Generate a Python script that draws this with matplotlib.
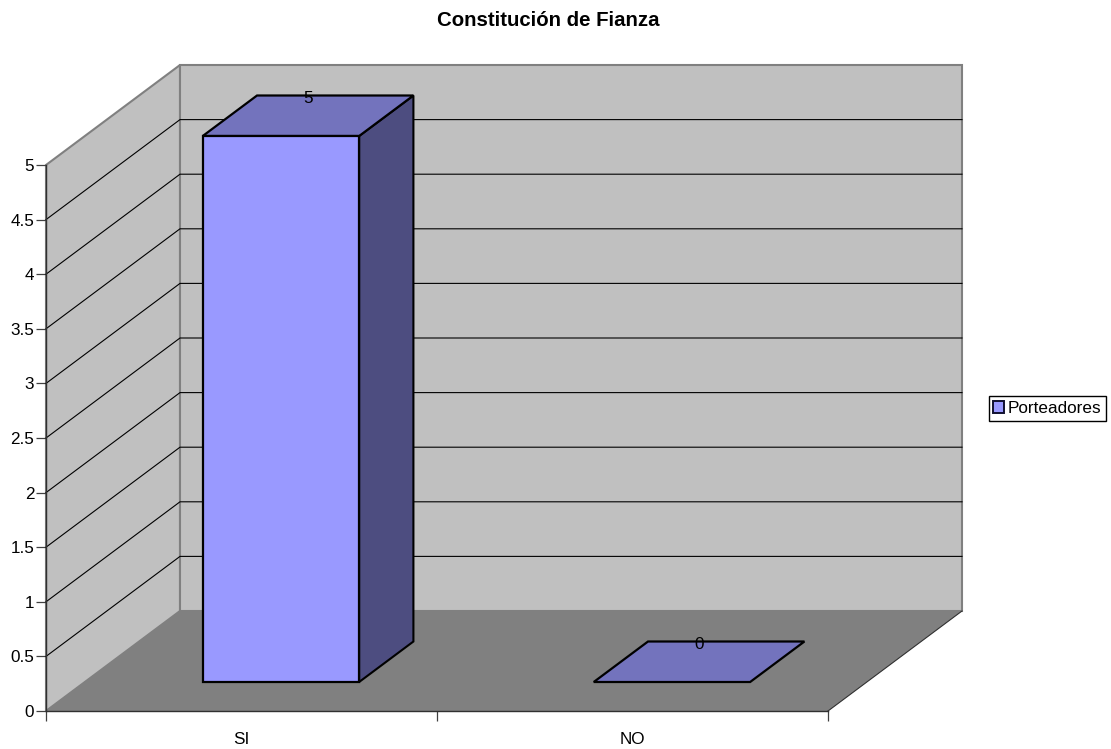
#coding:utf-8

import matplotlib
matplotlib.use("Agg")
import matplotlib.pyplot as plt
from matplotlib.patches import Polygon, Patch

plt.rcParams['font.family'] = ['Liberation Sans', 'DejaVu Sans']

categories = ["SI", "NO"]
values = [5, 0]
series_name = "Porteadores"
y_ticks = [0, 0.5, 1, 1.5, 2, 2.5, 3, 3.5, 4, 4.5, 5]
y_tick_labels = ["0", "0.5", "1", "1.5", "2", "2.5", "3", "3.5", "4", "4.5", "5"]

W, H = 1111, 749
fig = plt.figure(figsize=(W / 100, H / 100), dpi=100, facecolor="white")
# ejes = plano frontal del grafico 3D
ax = fig.add_axes([46 / W, (H - 711) / H, 782 / W, 546 / H])
ax.set_xlim(0, len(categories))
ax.set_ylim(0, 5)
ax.patch.set_visible(False)

# desplazamiento de profundidad en unidades de datos
DX = 134 / 391
DY = 100 / 109.2
BAR_W = 0.4
D0, D1 = 0.29, 0.695
PT = 72 / 100  # puntos por pixel


def depth(x, y, d):
    return (x + DX * d, y + DY * d)


def poly(pts, fc, ec="none", lw=0, z=1):
    ax.add_patch(Polygon(pts, closed=True, facecolor=fc, edgecolor=ec, linewidth=lw,
                         joinstyle="miter", clip_on=False, zorder=z))


n = len(categories)
# paredes y piso
poly([(0, 0), (0, 5), depth(0, 5, 1), depth(0, 0, 1)], "#C0C0C0", "#808080", 1.5)
poly([depth(0, 0, 1), depth(0, 5, 1), depth(n, 5, 1), depth(n, 0, 1)], "#C0C0C0", "#808080", 1.5)
poly([(0, 0), (n, 0), depth(n, 0, 1), depth(0, 0, 1)], "#808080")
ax.plot([n, depth(n, 0, 1)[0]], [0, depth(n, 0, 1)[1]], color="#303030", lw=0.8,
        clip_on=False, zorder=2)

# lineas de la cuadricula
for t in y_ticks[1:-1]:
    bx, by = depth(0, t, 1)
    ex, ey = depth(n, t, 1)
    ax.plot([0, bx, ex], [t, by, ey], color="black", lw=0.8, clip_on=False, zorder=2)

# barras
for i, v in enumerate(values):
    x0 = i + 0.5 - BAR_W / 2 + 0.0015
    x1 = i + 0.5 + BAR_W / 2 + 0.0015
    if v > 0:
        poly([depth(x1, 0, D0), depth(x1, 0, D1), depth(x1, v, D1), depth(x1, v, D0)],
             "#4D4D80", "black", 1.5, 3)
    poly([depth(x0, v, D0), depth(x1, v, D0), depth(x1, v, D1), depth(x0, v, D1)],
         "#7373BD", "black", 1.6, 3)
    if v > 0:
        poly([depth(x0, 0, D0), depth(x1, 0, D0), depth(x1, v, D0), depth(x0, v, D0)],
             "#9999FF", "black", 1.6, 4)
    lx = depth(i + 0.5, v, (D0 + D1) / 2)[0]
    ly = depth(i + 0.5, v, D1)[1]
    ax.annotate(str(v), xy=(lx, ly), xytext=(0.5 * PT, -7.5 * PT), textcoords="offset points",
                ha="center", va="baseline", fontsize=12.3, color="black",
                annotation_clip=False, zorder=5)

# ejes
for s in ["top", "right"]:
    ax.spines[s].set_visible(False)
for s in ["left", "bottom"]:
    ax.spines[s].set_color("#303030")
    ax.spines[s].set_linewidth(1.0)
    ax.spines[s].set_zorder(3)
ax.set_yticks(y_ticks)
ax.set_yticklabels(y_tick_labels)
ax.tick_params(axis="y", length=7, width=0.9, color="#404040", labelsize=12.3, pad=1.5)
ax.set_xticks(range(n + 1))
ax.set_xticklabels([""] * (n + 1))
ax.tick_params(axis="x", length=7, width=0.9, color="#404040")
for i, c in enumerate(categories):
    ax.annotate(c, xy=(i + 0.5, 0), xytext=(0, -32.5 * PT), textcoords="offset points",
                ha="center", va="baseline", fontsize=12.3, annotation_clip=False)

fig.text(548.5 / W, 1 - 25.5 / H, u"Constitución de Fianza", ha="center", va="baseline",
         fontsize=14.7, fontweight="bold")

# leyenda
leg = fig.legend(handles=[Patch(facecolor="#9999FF", edgecolor="#101030", linewidth=1.4,
                                label=series_name)],
                 loc="center left", bbox_to_anchor=(988.5 / W, 1 - 408.5 / H), fontsize=12.3,
                 frameon=True, fancybox=False, framealpha=1, edgecolor="black",
                 handlelength=0.62, handleheight=0.62, handletextpad=0.22,
                 borderpad=0.28, borderaxespad=0)
leg.get_frame().set_linewidth(1.0)

fig.savefig("out.png", dpi=100)
